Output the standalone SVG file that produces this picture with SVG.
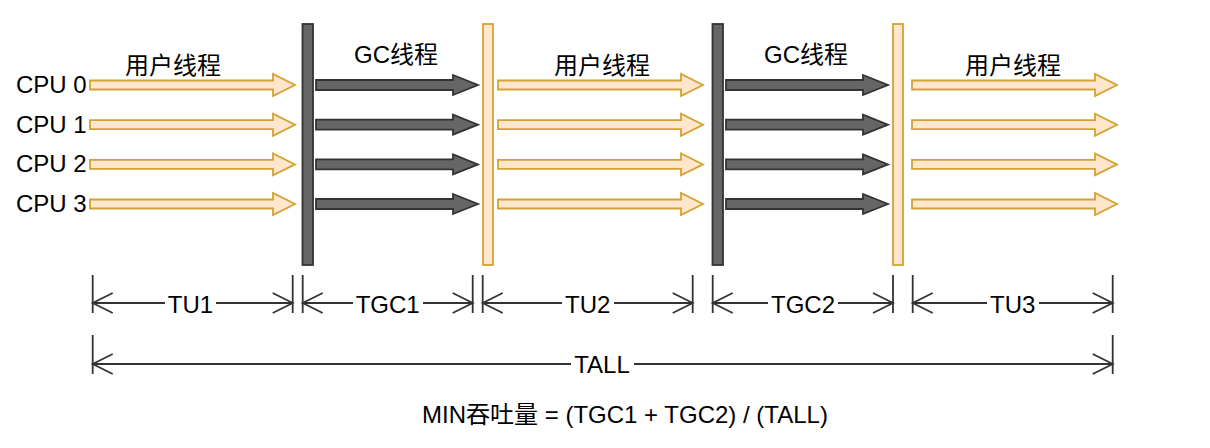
<svg xmlns="http://www.w3.org/2000/svg" width="1210" height="448" viewBox="0 0 1210 448">
<style>
text{font-family:"Liberation Sans",Arial,"Noto Sans CJK SC",sans-serif;font-size:24px;fill:#000}
.u{fill:#FFE6CC;stroke:#D4A232;stroke-width:1.8}
.g{fill:#666666;stroke:#333333;stroke-width:1.8}
.dim{stroke:#333;stroke-width:1.8;fill:none}
.bg{fill:#fff}
.m{text-anchor:middle}
</style>
<defs>
<path id="ua0" d="M0,-4.5 H183 V-11 L205,0 L183,11 V4.5 H0 Z"/>
<path id="ga0" d="M0,-5 H137 V-10 L162,0 L137,10 V5 H0 Z"/>
<path id="la" d="M20,-10 L0,0 L20,10"/>
<path id="ra" d="M-20,-10 L0,0 L-20,10"/>
</defs>

<g id="cpu-labels">
<text x="16" y="93">CPU 0</text>
<text x="16" y="132.5">CPU 1</text>
<text x="16" y="172">CPU 2</text>
<text x="16" y="211.5">CPU 3</text>
</g>

<g id="phase-labels">
<text class="m" x="173" y="74">用户线程</text>
<text class="m" x="396" y="63">GC线程</text>
<text class="m" x="602" y="74">用户线程</text>
<text class="m" x="806" y="63">GC线程</text>
<text class="m" x="1013" y="74">用户线程</text>
</g>

<g id="user1">
<use href="#ua0" class="u" x="90" y="85"/>
<use href="#ua0" class="u" x="90" y="124.7"/>
<use href="#ua0" class="u" x="90" y="164.4"/>
<use href="#ua0" class="u" x="90" y="204"/>
</g>
<g id="gcbar1"><rect class="g" x="302.5" y="24" width="10.5" height="241"/></g>
<g id="gc1">
<use href="#ga0" class="g" x="316" y="85"/>
<use href="#ga0" class="g" x="316" y="124.7"/>
<use href="#ga0" class="g" x="316" y="164.4"/>
<use href="#ga0" class="g" x="316" y="204"/>
</g>
<g id="ubar1"><rect class="u" x="483" y="24" width="10" height="241"/></g>
<g id="user2">
<use href="#ua0" class="u" x="498" y="85"/>
<use href="#ua0" class="u" x="498" y="124.7"/>
<use href="#ua0" class="u" x="498" y="164.4"/>
<use href="#ua0" class="u" x="498" y="204"/>
</g>
<g id="gcbar2"><rect class="g" x="712.5" y="24" width="10.5" height="241"/></g>
<g id="gc2">
<use href="#ga0" class="g" x="726" y="85"/>
<use href="#ga0" class="g" x="726" y="124.7"/>
<use href="#ga0" class="g" x="726" y="164.4"/>
<use href="#ga0" class="g" x="726" y="204"/>
</g>
<g id="ubar2"><rect class="u" x="893" y="24" width="10" height="241"/></g>
<g id="user3">
<use href="#ua0" class="u" x="912" y="85"/>
<use href="#ua0" class="u" x="912" y="124.7"/>
<use href="#ua0" class="u" x="912" y="164.4"/>
<use href="#ua0" class="u" x="912" y="204"/>
</g>

<g id="connectors">
<path class="dim" d="M92.7,275V313M292.7,275V313M302.7,275V313M472.7,275V313M482.7,275V313M692.7,275V313M712.7,275V313M893,275V313M912.7,275V313M1112.7,275V313M92.7,335V374M1112.7,335V374"/>
<path class="dim" d="M92.7,303H292.7M302.7,303H472.7M482.7,303H692.7M712.7,303H893M912.7,303H1112.7M92.7,364H1112.7"/>
<use href="#la" class="dim" x="92.7" y="303"/><use href="#ra" class="dim" x="292.7" y="303"/>
<use href="#la" class="dim" x="302.7" y="303"/><use href="#ra" class="dim" x="472.7" y="303"/>
<use href="#la" class="dim" x="482.7" y="303"/><use href="#ra" class="dim" x="692.7" y="303"/>
<use href="#la" class="dim" x="712.7" y="303"/><use href="#ra" class="dim" x="893" y="303"/>
<use href="#la" class="dim" x="912.7" y="303"/><use href="#ra" class="dim" x="1112.7" y="303"/>
<use href="#la" class="dim" x="92.7" y="364"/><use href="#ra" class="dim" x="1112.7" y="364"/>
</g>

<g id="dim-labels">
<rect class="bg" x="165" y="292" width="51" height="22"/><text class="m" x="190.5" y="313">TU1</text>
<rect class="bg" x="353" y="292" width="70" height="22"/><text class="m" x="387.7" y="313">TGC1</text>
<rect class="bg" x="562" y="292" width="52" height="22"/><text class="m" x="587.7" y="313">TU2</text>
<rect class="bg" x="768" y="292" width="70" height="22"/><text class="m" x="803" y="313">TGC2</text>
<rect class="bg" x="987" y="292" width="52" height="22"/><text class="m" x="1012.7" y="313">TU3</text>
<rect class="bg" x="571" y="353" width="63" height="22"/><text class="m" x="602" y="373">TALL</text>
</g>

<g id="formula">
<text class="m" x="625" y="423">MIN吞吐量 = (TGC1 + TGC2) / (TALL)</text>
</g>
</svg>
